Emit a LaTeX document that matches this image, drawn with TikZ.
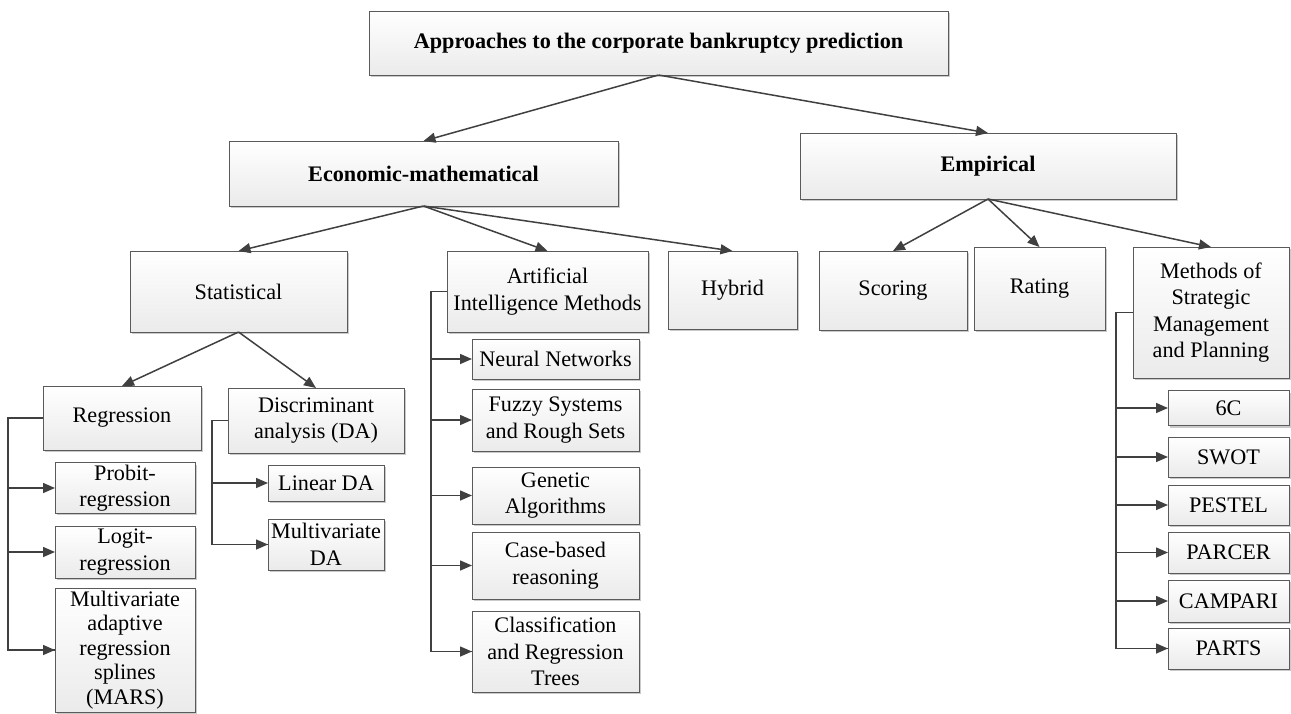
\documentclass[tikz,border=0pt]{standalone}
\usepackage{fontspec}
\setmainfont{Liberation Serif}
\usetikzlibrary{arrows.meta,shadows}
\definecolor{boxline}{HTML}{5A5A5A}
\definecolor{linkcol}{HTML}{404040}

\begin{document}
\begin{tikzpicture}[x=0.5pt,y=-0.5pt,
    font=\fontsize{11.1pt}{13.3pt}\selectfont,
    box/.style={draw=boxline, line width=0.5pt, top color=white, bottom color=gray!16,
        drop shadow={shadow xshift=1pt, shadow yshift=-1pt, fill=gray!70, opacity=0.6},
        align=center, inner sep=1pt, outer sep=0pt},
    head/.style={box, font=\fontsize{11.1pt}{13.3pt}\selectfont\bfseries},
    wh/.style 2 args={minimum width=#1*0.5pt, minimum height=#2*0.5pt},
    link/.style={draw=linkcol, line width=0.75pt},
    arrow/.style={link, -{Triangle[length=6pt,width=5pt]}}]
    \useasboundingbox (0,0) rectangle (1291,713);

    % Top levels
    \node[head, wh={579}{64}] (top) at (658.5,43) {Approaches to the corporate bankruptcy prediction};
    \node[head, wh={389}{65}] (econ) at (423.5,173.5) {Economic-mathematical};
    \node[head, wh={376}{66}] (emp) at (988,166) {Empirical};

    % Economic-mathematical branch
    \node[box, wh={217}{81}] (stat) at (238.5,291.5) {Statistical};
    \node[box, wh={201}{81}] (ai) at (547.5,291.5) {Artificial\\Intelligence Methods};
    \node[box, wh={129}{78}] (hybrid) at (732.5,290) {Hybrid};

    % Empirical branch
    \node[box, wh={148}{79}] (scoring) at (893,290.5) {Scoring};
    \node[box, wh={131}{83}] (rating) at (1039.5,288.5) {Rating};
    \node[box, wh={156}{131}] (methods) at (1211,312.5) {Methods of\\Strategic\\Management\\and Planning};

    % Statistical
    \node[box, wh={158}{64}] (reg) at (122,418) {Regression};
    \node[box, wh={176}{65}] (da) at (316,420.5) {Discriminant\\analysis (DA)};
    \node[box, wh={140}{46}] (probit) at (125,488) {Probit-\\regression};
    \node[box, wh={140}{52}] (logit) at (125,552) {Logit-\\regression};
    \node[box, wh={140}{124}, inner sep=0pt, font=\fontsize{11.1pt}{12.3pt}\selectfont] (mars) at (125,650)
        {Multivariate\\adaptive\\regression\\splines\\(MARS)};
    \node[box, wh={116}{36}] (linda) at (326,483) {Linear DA};
    \node[box, wh={116}{51}] (multda) at (326,544.5) {Multivariate\\DA};

    % AI methods
    \node[box, wh={167}{40}] (nn) at (555.5,359) {Neural Networks};
    \node[box, wh={167}{62}] (fuzzy) at (555.5,420) {Fuzzy Systems\\and Rough Sets};
    \node[box, wh={167}{57}] (genetic) at (555.5,495.5) {Genetic\\Algorithms};
    \node[box, wh={167}{67}] (cbr) at (555.5,565.5) {Case-based\\reasoning};
    \node[box, wh={167}{81}] (cart) at (555.5,651.5) {Classification\\and Regression\\Trees};

    % Strategic methods
    \node[box, wh={121}{35}] (sixc) at (1228.5,408) {6C};
    \node[box, wh={121}{40}] (swot) at (1228.5,457) {SWOT};
    \node[box, wh={121}{40}] (pestel) at (1228.5,505) {PESTEL};
    \node[box, wh={121}{41}] (parcer) at (1228.5,552.5) {PARCER};
    \node[box, wh={121}{42}] (campari) at (1228.5,601) {CAMPARI};
    \node[box, wh={121}{41}] (parts) at (1228.5,648.5) {PARTS};

    % Tree arrows
    \draw[arrow] (top.south) -- (econ.north);
    \draw[arrow] (top.south) -- (emp.north);
    \draw[arrow] (econ.south) -- (stat.north);
    \draw[arrow] (econ.south) -- (ai.north);
    \draw[arrow] (econ.south) -- (hybrid.north);
    \draw[arrow] (emp.south) -- (scoring.north);
    \draw[arrow] (emp.south) -- (rating.north);
    \draw[arrow] (emp.south) -- (methods.north);
    \draw[arrow] (stat.south) -- (reg.north);
    \draw[arrow] (stat.south) -- (da.north);

    % Side buses
    \coordinate (regbus) at (8,418);
    \coordinate (dabus) at (212,420.5);
    \coordinate (aibus) at (431,291.5);
    \coordinate (mbus) at (1116,312.5);

    \draw[link] (reg.west) -- (regbus) |- (mars.west);
    \foreach \n in {probit,logit,mars}
        \draw[arrow] (regbus |- \n.west) -- (\n.west);

    \draw[link] (da.west) -- (dabus) |- (multda.west);
    \foreach \n in {linda,multda}
        \draw[arrow] (dabus |- \n.west) -- (\n.west);

    \draw[link] (ai.west) -- (aibus) |- (cart.west);
    \foreach \n in {nn,fuzzy,genetic,cbr,cart}
        \draw[arrow] (aibus |- \n.west) -- (\n.west);

    \draw[link] (methods.west) -- (mbus) |- (parts.west);
    \foreach \n in {sixc,swot,pestel,parcer,campari,parts}
        \draw[arrow] (mbus |- \n.west) -- (\n.west);

\end{tikzpicture}
\end{document}
